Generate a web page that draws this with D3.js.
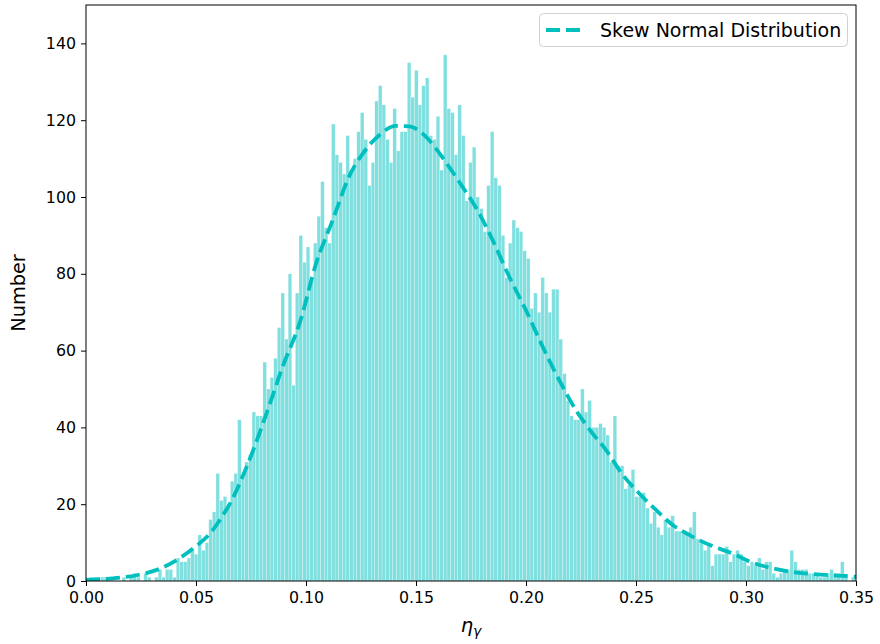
<!DOCTYPE html>
<html><head><meta charset="utf-8">
<script src="https://cdn.jsdelivr.net/npm/d3@7"></script>
<style>body{margin:0;background:#fff;} text{font-family:"DejaVu Sans",sans-serif;fill:#000;}</style>
</head><body><svg id="c" width="880" height="644"></svg>
<script>
// ---- data ----
const binStart = 0;
const binWidth = 0.001641;
const counts = [
  0,1,1,1,1,1,0,0,0,0, 1,0,1,2,1,0,2,1,0,1, 3,1,3,3,1,6,5,5,6,8, 7,12,8,10,16,18,
  28,21,22,20,26,28,42,27,31,33, 44,43,43,57,50,53,58,66,75,63, 80,51,75,90,83,87,79,88,95,104, 92,88,119,111,109,106,116,107,110,
  117,122,115,103,109,125,129,124,115,109, 123,112,117,117,135,126,133,124,129,131, 116,115,121,107,137,123,122,111,124,116, 99,109,113,
  100,97,91,103,117,105,103,90,79,88, 94,92,91,86,84,71,75,70,
  79,75,70,76,76,63,54,47,43,42, 42,50,44,47,40,40,41,40,
  38,31,43,30,30,24,25,29,22,22, 23,19,15,18,14,12,16,14,17,13, 13,13,12,14,18,11,10,8,10,4, 7,7,7,9,5,7,
  8,7,5,4,5,4,6,3,5,5, 2,1,2,3,3,8,5,3,3,3, 2,2,2,1,1,2,3,2,2,5, 1,0,1,1
];
const curveX = [0.000,0.0123,0.0230,0.0336,0.0427,0.0488,0.0577,0.0621,0.0655,0.0730,0.0821,0.0895,0.0973,0.1045,0.1121,0.1197,0.1258,0.1333,0.1409,0.1470,0.1530,0.1591,0.1651,0.1712,0.1773,0.1849,0.1924,0.2000,0.2076,0.2151,0.2227,0.2303,0.2364,0.2440,0.2515,0.2591,0.2667,0.2742,0.2818,0.2894,0.2955,0.3003,0.3079,0.3155,0.3230,0.3306,0.3382,0.3458,0.3500];
const curveY = [0.3,0.7,1.5,3.2,6.0,8.5,13.3,17,20.2,29.7,43.7,56,67.5,82.5,93.9,105.5,111.3,116.1,118.5,118.4,116.5,112.6,107.8,102.6,97.2,88.7,79.2,70.5,61,52.3,44.5,38.4,34.1,27.6,22.8,18.5,14.6,12,9.8,8.1,6.8,5.4,3.9,2.9,2.2,1.8,1.5,1.3,1.1];
const xTicks = [0,0.05,0.10,0.15,0.20,0.25,0.30,0.35];
const yTicks = [0,20,40,60,80,100,120,140];
const yLabel = "Number";
const legendLabel = "Skew Normal Distribution";

// ---- layout ----
const L = 86, R = 856, T = 5, B = 581;
const svg = d3.select("#c");
const x = d3.scaleLinear().domain([0,0.35]).range([L,R]);
const y = d3.scaleLinear().domain([0,150]).range([B,T]);

svg.append("clipPath").attr("id","clip").append("rect")
  .attr("x",L).attr("y",T).attr("width",R-L).attr("height",B-T);

const bins = counts.map((c,i)=>({x0: binStart + i*binWidth, x1: binStart + (i+1)*binWidth, c}));
svg.append("g").attr("clip-path","url(#clip)")
  .selectAll("rect").data(bins).join("rect")
  .attr("x", d=>x(d.x0)).attr("width", d=>x(d.x1)-x(d.x0))
  .attr("y", d=>y(d.c)).attr("height", d=>y(0)-y(d.c))
  .attr("fill","#80dfdf").attr("stroke","#ffffff").attr("stroke-width",0.35).attr("stroke-opacity",0.7);

const line = d3.line().x((d,i)=>x(curveX[i])).y(d=>y(d)).curve(d3.curveMonotoneX);
svg.append("path").datum(curveY).attr("d", line).attr("clip-path","url(#clip)")
  .attr("fill","none").attr("stroke","#00bfbf").attr("stroke-width",3.8)
  .attr("stroke-dasharray","14,6");

// axes
const xAxis = svg.append("g").attr("transform",`translate(0,${B})`)
  .call(d3.axisBottom(x).tickValues(xTicks).tickFormat(d3.format(".2f")).tickSize(5).tickPadding(6));
const yAxis = svg.append("g").attr("transform",`translate(${L},0)`)
  .call(d3.axisLeft(y).tickValues(yTicks).tickSize(5).tickPadding(5));
[xAxis,yAxis].forEach(g=>{
  g.select(".domain").remove();
  g.selectAll(".tick line").attr("stroke","#000").attr("stroke-width",1);
  g.selectAll(".tick text").attr("font-size",15.8).attr("font-family","DejaVu Sans").attr("fill","#000");
});
svg.append("rect").attr("x",L).attr("y",T).attr("width",R-L).attr("height",B-T)
  .attr("fill","none").attr("stroke","#000").attr("stroke-width",1);

// axis labels
const xl = svg.append("text").attr("x",(L+R)/2).attr("y",632).attr("text-anchor","middle")
  .attr("font-size",19.5).attr("font-style","italic");
xl.append("tspan").text("η");
xl.append("tspan").attr("font-size",14).attr("dy",4).text("γ");
svg.append("text").attr("transform",`translate(25,${(T+B)/2}) rotate(-90)`)
  .attr("text-anchor","middle").attr("font-size",19.3).text(yLabel);

// legend
const lg = svg.append("g");
lg.append("rect").attr("x",539.5).attr("y",13.5).attr("width",308).attr("height",33).attr("rx",4)
  .attr("fill","#fff").attr("fill-opacity",0.8).attr("stroke","#d0d0d0").attr("stroke-width",1);
lg.append("line").attr("x1",546).attr("x2",585).attr("y1",30).attr("y2",30)
  .attr("stroke","#00bfbf").attr("stroke-width",3.8).attr("stroke-dasharray","14,6");
lg.append("text").attr("x",600).attr("y",36.5).attr("font-size",19).text(legendLabel);
</script></body></html>
